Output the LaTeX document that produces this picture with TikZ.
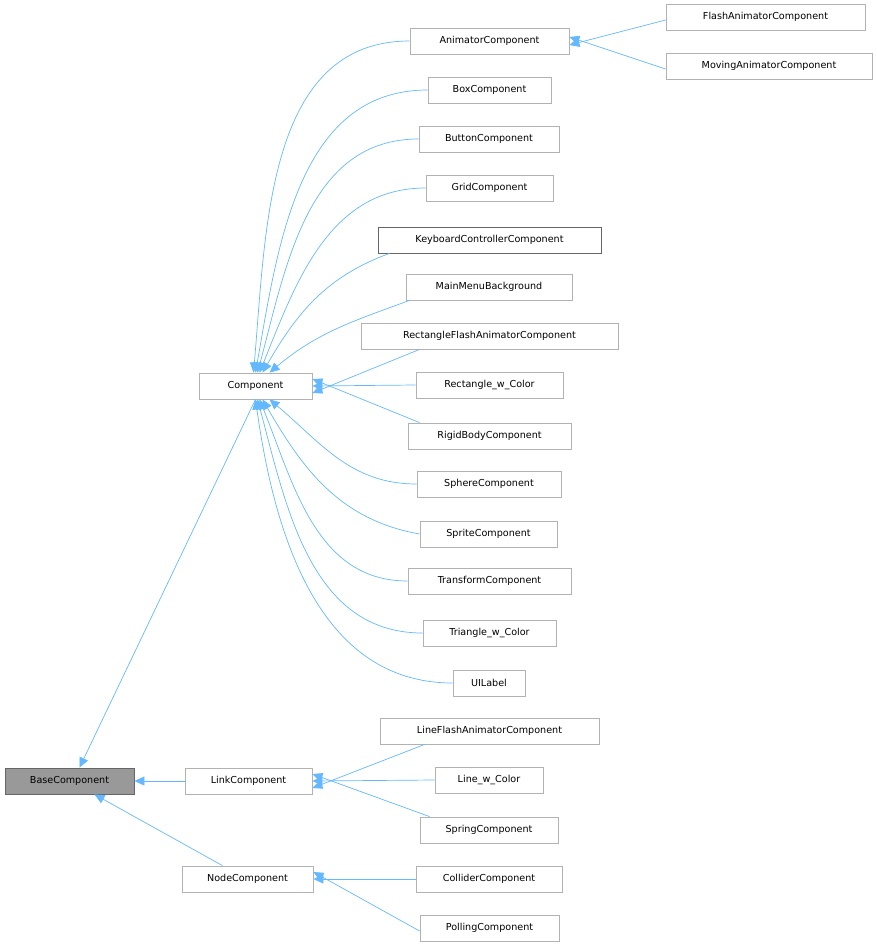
\documentclass[tikz,border=0pt]{standalone}
\usepackage{fontspec}
\setmainfont{DejaVu Sans}
\usetikzlibrary{arrows.meta}
\definecolor{edgeblue}{HTML}{63B8FF}
\tikzset{x=1pt, y=-1pt, font=\fontsize{9.6}{10}\selectfont}
\tikzstyle{cls} = [draw=black!30, line width=0.8pt, fill=white, rectangle, minimum height=26pt, inner sep=0pt, anchor=center]
\tikzstyle{base} = [cls, draw=black!60, fill=black!40]
\tikzstyle{sel} = [cls, draw=black!60]
\tikzstyle{inh} = [draw=edgeblue, line width=0.7pt, {Triangle[length=10pt,width=9pt,fill=edgeblue]}-]
\begin{document}
\begin{tikzpicture}
    \useasboundingbox (0,0) rectangle (877,948);
    \node [base, minimum width=129pt] (base) at (69.5,781) {BaseComponent};
    \node [cls, minimum width=113pt] (comp) at (255.5,386) {Component};
    \node [cls, minimum width=127pt] (link) at (248.5,781) {LinkComponent};
    \node [cls, minimum width=131pt] (nodec) at (247.5,879) {NodeComponent};
    \node [cls, minimum width=159pt] (anim) at (489.5,41) {AnimatorComponent};
    \node [cls, minimum width=199pt] (flash) at (765.5,17) {FlashAnimatorComponent};
    \node [cls, minimum width=206pt] (moving) at (769,66) {MovingAnimatorComponent};
    \node [cls, minimum width=123pt] (box) at (489.5,90) {BoxComponent};
    \node [cls, minimum width=140pt] (button) at (489,139) {ButtonComponent};
    \node [cls, minimum width=127pt] (grid) at (489.5,188) {GridComponent};
    \node [sel, minimum width=223pt] (keyb) at (489.5,240) {KeyboardControllerComponent};
    \node [cls, minimum width=166pt] (menu) at (489,287) {MainMenuBackground};
    \node [cls, minimum width=257pt] (rectflash) at (489.5,336) {RectangleFlashAnimatorComponent};
    \node [cls, minimum width=147pt] (rect) at (489.5,385) {Rectangle\_w\_Color};
    \node [cls, minimum width=163pt] (rigid) at (489.5,436) {RigidBodyComponent};
    \node [cls, minimum width=144pt] (sphere) at (489,484) {SphereComponent};
    \node [cls, minimum width=137pt] (sprite) at (488.5,534) {SpriteComponent};
    \node [cls, minimum width=163pt] (trans) at (489.5,581) {TransformComponent};
    \node [cls, minimum width=133pt] (tri) at (489.5,633) {Triangle\_w\_Color};
    \node [cls, minimum width=72pt] (uilabel) at (489,683) {UILabel};
    \node [cls, minimum width=219pt] (lineflash) at (489.5,731) {LineFlashAnimatorComponent};
    \node [cls, minimum width=108pt] (line) at (489,780) {Line\_w\_Color};
    \node [cls, minimum width=138pt] (spring) at (489,830) {SpringComponent};
    \node [cls, minimum width=146pt] (collider) at (489,879) {ColliderComponent};
    \node [cls, minimum width=139pt] (polling) at (489.5,928) {PollingComponent};

    % inheritance to BaseComponent
    \draw [inh] ([xshift=10pt]base.north) -- (comp.south);
    \draw [inh] (base.east) -- (link.west);
    \draw [inh] ([xshift=25pt]base.south) -- ([xshift=-25pt]nodec.north);
    % inheritance to AnimatorComponent
    \draw [inh] ([yshift=-4pt]anim.east) -- ([yshift=-3pt]flash.west);
    \draw [inh] ([yshift=4pt]anim.east) -- ([yshift=-3pt]moving.west);
    % inheritance to Component
    \draw [inh] ([xshift=-2pt]comp.north) to [out=85, in=180] (anim.west);
    \draw [inh] ([xshift=0pt]comp.north) to [out=80, in=180] (box.west);
    \draw [inh] ([xshift=2pt]comp.north) to [out=75, in=180] (button.west);
    \draw [inh] ([xshift=4pt]comp.north) to [out=68, in=180] (grid.west);
    \draw [inh] ([xshift=7pt]comp.north) to [out=60, in=200] ([xshift=12pt]keyb.south west);
    \draw [inh] ([xshift=14pt]comp.north) to [out=40, in=200] ([xshift=4pt]menu.south west);
    \draw [inh] ([yshift=-7pt]comp.east) -- ([xshift=59pt]rectflash.south west);
    \draw [inh] (comp.east) -- (rect.west);
    \draw [inh] ([yshift=7pt]comp.east) -- ([xshift=12pt]rigid.north west);
    \draw [inh] ([xshift=14pt]comp.south) to [out=-40, in=180] (sphere.west);
    \draw [inh] ([xshift=7pt]comp.south) to [out=-60, in=170] (sprite.west);
    \draw [inh] ([xshift=4pt]comp.south) to [out=-68, in=180] (trans.west);
    \draw [inh] ([xshift=2pt]comp.south) to [out=-75, in=180] (tri.west);
    \draw [inh] ([xshift=0pt]comp.south) to [out=-82, in=180] (uilabel.west);
    % inheritance to LinkComponent
    \draw [inh] ([yshift=-7pt]link.east) -- ([xshift=45pt]lineflash.south west);
    \draw [inh] (link.east) -- (line.west);
    \draw [inh] ([yshift=7pt]link.east) -- ([xshift=10pt]spring.north west);
    % inheritance to NodeComponent
    \draw [inh] (nodec.east) -- (collider.west);
    \draw [inh] ([yshift=7pt]nodec.east) -- ([yshift=-3pt]polling.west);
\end{tikzpicture}
\end{document}
